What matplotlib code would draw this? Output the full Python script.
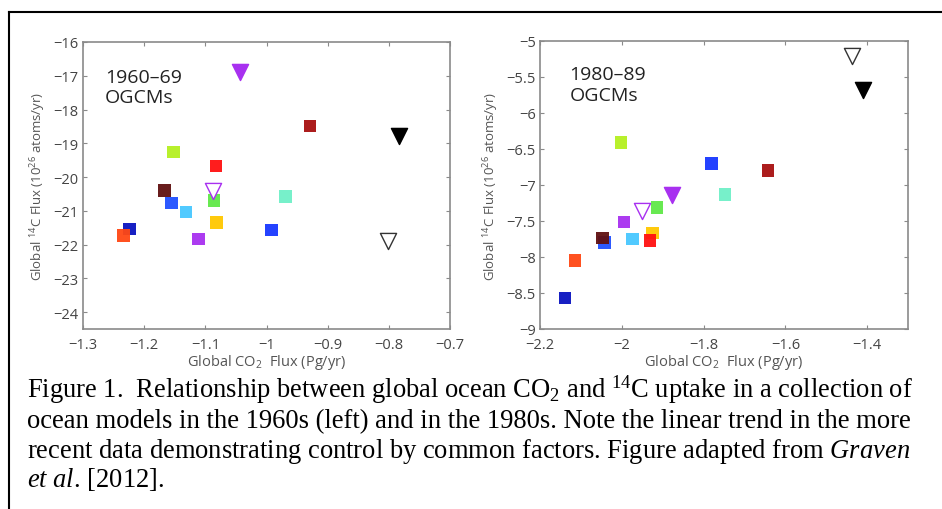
import numpy as np
import matplotlib
matplotlib.use('Agg')
import matplotlib.pyplot as plt
from matplotlib.lines import Line2D

plt.rcParams['mathtext.fontset'] = 'custom'
plt.rcParams['mathtext.it'] = 'Liberation Serif:italic'
plt.rcParams['mathtext.rm'] = 'Liberation Serif'

# model colours (same model -> same colour in both panels)
colors = ['#0a14c0', '#2050ff', '#1838ff', '#48c8ff', '#70f0c8', '#60e848',
          '#b4f020', '#ffc800', '#ff1010', '#ff4814', '#a81010', '#601010', '#a830f0']

# 1960-69 squares (CO2 flux, 14C flux)
x60 = [-1.224, -1.155, -0.992, -1.132, -0.969, -1.086, -1.152, -1.082, -1.083, -1.234, -0.929, -1.167, -1.111]
y60 = [-21.54, -20.77, -21.56, -21.04, -20.57, -20.70, -19.25, -21.34, -19.68, -21.73, -18.48, -20.40, -21.83]
# 1980-89 squares
x80 = [-2.139, -2.042, -1.781, -1.974, -1.747, -1.914, -2.002, -1.925, -1.931, -2.114, -1.642, -2.047, -1.994]
y80 = [-8.57, -7.80, -6.70, -7.75, -7.13, -7.31, -6.41, -7.67, -7.77, -8.05, -6.80, -7.74, -7.51]

# triangles: filled purple, open purple, filled black, open black
tri_face = ['#a830f0', 'white', 'black', 'white']
tri_edge = ['#a830f0', '#a830f0', 'black', '#333333']
tx60 = [-1.043, -1.087, -0.784, -0.801]
ty60 = [-16.89, -20.42, -18.78, -21.89]
tx80 = [-1.878, -1.951, -1.411, -1.437]
ty80 = [-7.14, -7.36, -5.68, -5.21]

sans = 'Open Sans'
fig = plt.figure(figsize=(9.42, 5.10), dpi=100)

def panel(rect, xs, ys, txs, tys, xlim, ylim, xticks, yticks, ytl, xtl, label, lpos):
    ax = fig.add_axes(rect)
    ax.scatter(xs, ys, marker='s', s=80, c=colors, edgecolors='none', alpha=0.95, zorder=3)
    for xx, yy, fc, ec in zip(txs, tys, tri_face, tri_edge):
        ax.scatter([xx], [yy], marker='v', s=135, facecolors=fc, edgecolors=ec,
                   linewidths=1.0, zorder=4)
    ax.set_xlim(*xlim)
    ax.set_ylim(*ylim)
    ax.set_xticks(xticks)
    ax.set_yticks(yticks)
    ax.set_xticklabels(xtl)
    ax.set_yticklabels(ytl)
    for s in ax.spines.values():
        s.set_color('#8a8a8a')
        s.set_linewidth(1.2)
    ax.tick_params(direction='in', top=True, right=True, length=3, width=0.8,
                   color='#8a8a8a', labelsize=10.5, labelcolor='#444444', pad=3)
    ax.tick_params(axis='x', pad=6)
    for t in ax.get_xticklabels() + ax.get_yticklabels():
        t.set_family(sans)
    ax.set_xlabel(r'Global CO$\mathregular{_2}$  Flux (Pg/yr)', family=sans,
                  fontsize=10.5, color='#555555', labelpad=0)
    ax.set_ylabel(r'Global $\mathregular{^{14}}$C Flux (10$\mathregular{^{26}}$ atoms/yr)',
                  family=sans, fontsize=9.5, color='#555555', labelpad=4)
    ax.text(lpos[0], lpos[1], label, transform=ax.transAxes, family=sans, fontsize=14,
            color='#222222', va='top', linespacing=1.15)
    return ax

m = '\u2212'
panel([83/942, 180/510, 367/942, 287/510], x60, y60, tx60, ty60,
      (-1.3, -0.7), (-24.5, -16),
      [-1.3, -1.2, -1.1, -1.0, -0.9, -0.8, -0.7], list(range(-24, -15)),
      [m + str(abs(v)) for v in range(-24, -15)],
      [m + '1.3', m + '1.2', m + '1.1', m + '1', m + '0.9', m + '0.8', m + '0.7'],
      '1960\u201369\nOGCMs', (0.06, 0.91))
panel([540/942, 180/510, 368/942, 288/510], x80, y80, tx80, ty80,
      (-2.2, -1.3), (-9, -5),
      [-2.2, -2.0, -1.8, -1.6, -1.4], [-9, -8.5, -8, -7.5, -7, -6.5, -6, -5.5, -5],
      [m + '9', m + '8.5', m + '8', m + '7.5', m + '7', m + '6.5', m + '6', m + '5.5', m + '5'],
      [m + '2.2', m + '2', m + '1.8', m + '1.6', m + '1.4'],
      '1980\u201389\nOGCMs', (0.08, 0.915))

# outer frame of the figure box
fig.add_artist(Line2D([9/942, 9/942], [0, 1 - 13/510], color='black', lw=1.5,
                      transform=fig.transFigure))
fig.add_artist(Line2D([9/942, 1], [1 - 13/510, 1 - 13/510], color='black', lw=1.5,
                      transform=fig.transFigure))

serif = 'Liberation Serif'
cap = [
    r'Figure 1.  Relationship between global ocean CO$\mathregular{_2}$ and $\mathregular{^{14}}$C uptake in a collection of',
    'ocean models in the 1960s (left) and in the 1980s. Note the linear trend in the more',
    r'recent data demonstrating control by common factors. Figure adapted from $\mathit{Graven}$',
    r'$\mathit{et\ al.}\,$[2012].',
]
base = [398, 428, 458, 487]
sizes = [19.1, 19.2, 19.1, 19.1]
for line, b, fs in zip(cap, base, sizes):
    fig.text(27/942, 1 - b/510, line, family=serif, fontsize=fs, color='black',
             va='baseline', ha='left')

fig.savefig('out.png', dpi=100)
